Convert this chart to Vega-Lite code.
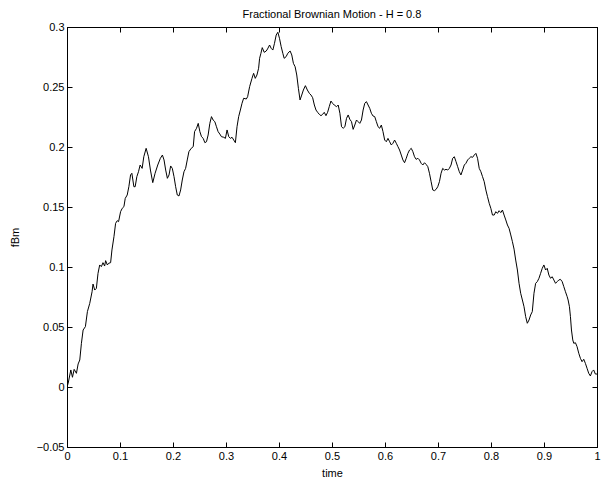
{
  "$schema": "https://vega.github.io/schema/vega-lite/v6.json",
  "autosize": "none",
  "width": 530,
  "height": 420,
  "padding": {"left": 67, "top": 27, "right": 4, "bottom": 39},
  "background": "white",
  "title": {"text": "Fractional Brownian Motion - H = 0.8", "font": "Liberation Sans", "fontSize": 11, "fontWeight": "normal", "color": "black", "offset": 1, "anchor": "middle"},
  "data": {"values": [
    {"time":0,"fBm":0},{"time":0.0022,"fBm":0.0031},{"time":0.0072,"fBm":0.0142},{"time":0.0103,"fBm":0.0081},{"time":0.0135,"fBm":0.0147},{"time":0.0178,"fBm":0.0114},{"time":0.021,"fBm":0.0192},{"time":0.0241,"fBm":0.0225},{"time":0.0272,"fBm":0.0364},{"time":0.0304,"fBm":0.0475},{"time":0.0347,"fBm":0.0503},{"time":0.0385,"fBm":0.0628},{"time":0.0429,"fBm":0.0697},{"time":0.0473,"fBm":0.0794},{"time":0.0491,"fBm":0.0858},{"time":0.0523,"fBm":0.0808},{"time":0.0554,"fBm":0.0822},{"time":0.0585,"fBm":0.0947},{"time":0.0617,"fBm":0.1017},{"time":0.0648,"fBm":0.1003},{"time":0.0679,"fBm":0.1036},{"time":0.071,"fBm":0.1008},{"time":0.0729,"fBm":0.1053},{"time":0.0761,"fBm":0.1017},{"time":0.0786,"fBm":0.1031},{"time":0.0823,"fBm":0.1036},{"time":0.0848,"fBm":0.1142},{"time":0.0886,"fBm":0.1253},{"time":0.0917,"fBm":0.1364},{"time":0.0948,"fBm":0.1386},{"time":0.0973,"fBm":0.1378},{"time":0.1011,"fBm":0.1461},{"time":0.1042,"fBm":0.1489},{"time":0.1074,"fBm":0.1503},{"time":0.1099,"fBm":0.1572},{"time":0.1136,"fBm":0.16},{"time":0.1167,"fBm":0.1669},{"time":0.1199,"fBm":0.1767},{"time":0.1224,"fBm":0.1781},{"time":0.1262,"fBm":0.1669},{"time":0.1286,"fBm":0.1669},{"time":0.1318,"fBm":0.1753},{"time":0.1349,"fBm":0.1794},{"time":0.138,"fBm":0.185},{"time":0.1418,"fBm":0.1822},{"time":0.1449,"fBm":0.1919},{"time":0.1493,"fBm":0.1989},{"time":0.1537,"fBm":0.1919},{"time":0.1574,"fBm":0.1808},{"time":0.1618,"fBm":0.1703},{"time":0.1662,"fBm":0.1781},{"time":0.1712,"fBm":0.185},{"time":0.1762,"fBm":0.1906},
    {"time":0.18,"fBm":0.1933},{"time":0.1831,"fBm":0.1892},{"time":0.1862,"fBm":0.1808},{"time":0.1894,"fBm":0.1739},{"time":0.1925,"fBm":0.1767},{"time":0.1956,"fBm":0.1842},{"time":0.1987,"fBm":0.1822},{"time":0.2019,"fBm":0.1753},{"time":0.205,"fBm":0.1669},{"time":0.2081,"fBm":0.16},{"time":0.2113,"fBm":0.1592},{"time":0.2144,"fBm":0.1642},{"time":0.2175,"fBm":0.1725},{"time":0.2207,"fBm":0.1794},{"time":0.2238,"fBm":0.1822},{"time":0.2269,"fBm":0.1892},{"time":0.23,"fBm":0.1961},{"time":0.2344,"fBm":0.1989},{"time":0.2382,"fBm":0.2003},{"time":0.2407,"fBm":0.2128},{"time":0.2444,"fBm":0.2156},{"time":0.2476,"fBm":0.2197},{"time":0.2507,"fBm":0.2128},{"time":0.2538,"fBm":0.2086},{"time":0.257,"fBm":0.2072},{"time":0.2601,"fBm":0.2036},{"time":0.2632,"fBm":0.2044},{"time":0.2663,"fBm":0.21},{"time":0.2695,"fBm":0.2197},{"time":0.2726,"fBm":0.2253},{"time":0.2757,"fBm":0.2225},{"time":0.2789,"fBm":0.2211},{"time":0.282,"fBm":0.2169},{"time":0.2851,"fBm":0.2128},{"time":0.2883,"fBm":0.2108},{"time":0.2914,"fBm":0.2086},{"time":0.2958,"fBm":0.2081},{"time":0.2989,"fBm":0.2072},{"time":0.302,"fBm":0.2142},{"time":0.3052,"fBm":0.2086},{"time":0.3083,"fBm":0.2072},{"time":0.3114,"fBm":0.2081},{"time":0.3146,"fBm":0.2058},{"time":0.3177,"fBm":0.2036},{"time":0.3208,"fBm":0.2169},{"time":0.3239,"fBm":0.2253},{"time":0.3271,"fBm":0.2308},{"time":0.3302,"fBm":0.2364},{"time":0.3333,"fBm":0.2406},
    {"time":0.3383,"fBm":0.24},{"time":0.3408,"fBm":0.2419},{"time":0.3446,"fBm":0.2503},{"time":0.349,"fBm":0.2572},{"time":0.3521,"fBm":0.2614},{"time":0.3552,"fBm":0.2572},{"time":0.3584,"fBm":0.26},{"time":0.3615,"fBm":0.2656},{"time":0.3634,"fBm":0.2739},{"time":0.3659,"fBm":0.2781},{"time":0.3684,"fBm":0.2828},{"time":0.3721,"fBm":0.2789},{"time":0.3759,"fBm":0.28},{"time":0.3784,"fBm":0.2817},{"time":0.3822,"fBm":0.285},{"time":0.3853,"fBm":0.2822},{"time":0.3884,"fBm":0.2808},{"time":0.3915,"fBm":0.2864},{"time":0.3947,"fBm":0.2933},{"time":0.3978,"fBm":0.2956},{"time":0.4009,"fBm":0.2906},{"time":0.4041,"fBm":0.2836},{"time":0.4072,"fBm":0.2781},{"time":0.4097,"fBm":0.2739},{"time":0.4135,"fBm":0.2753},{"time":0.4166,"fBm":0.2781},{"time":0.421,"fBm":0.28},{"time":0.4241,"fBm":0.2767},{"time":0.4272,"fBm":0.2697},{"time":0.4304,"fBm":0.2669},{"time":0.4335,"fBm":0.26},{"time":0.4366,"fBm":0.2489},{"time":0.4397,"fBm":0.2392},{"time":0.4429,"fBm":0.2433},{"time":0.446,"fBm":0.2475},{"time":0.4498,"fBm":0.2511},{"time":0.4535,"fBm":0.2475},{"time":0.4573,"fBm":0.2447},{"time":0.4604,"fBm":0.2433},{"time":0.4635,"fBm":0.2411},{"time":0.4667,"fBm":0.235},{"time":0.4698,"fBm":0.2308},{"time":0.4729,"fBm":0.2289},{"time":0.4761,"fBm":0.2272},{"time":0.4792,"fBm":0.2261},{"time":0.4823,"fBm":0.2272},{"time":0.4854,"fBm":0.2289},{"time":0.4886,"fBm":0.2261},{"time":0.4917,"fBm":0.2289},{"time":0.4948,"fBm":0.2336},{"time":0.498,"fBm":0.2383},{"time":0.5011,"fBm":0.2364},{"time":0.5042,"fBm":0.235},{"time":0.5086,"fBm":0.2336},{"time":0.5117,"fBm":0.235},
    {"time":0.5149,"fBm":0.2281},{"time":0.518,"fBm":0.2169},{"time":0.5211,"fBm":0.2156},{"time":0.5243,"fBm":0.2169},{"time":0.5274,"fBm":0.2239},{"time":0.5305,"fBm":0.2267},{"time":0.5336,"fBm":0.2231},{"time":0.5368,"fBm":0.2211},{"time":0.5399,"fBm":0.2147},{"time":0.543,"fBm":0.2183},{"time":0.5462,"fBm":0.2225},{"time":0.5493,"fBm":0.2211},{"time":0.5524,"fBm":0.2197},{"time":0.5556,"fBm":0.2225},{"time":0.5587,"fBm":0.2308},{"time":0.5618,"fBm":0.2364},{"time":0.5649,"fBm":0.2378},{"time":0.5681,"fBm":0.235},{"time":0.5712,"fBm":0.2322},{"time":0.5743,"fBm":0.2281},{"time":0.5775,"fBm":0.2258},{"time":0.5806,"fBm":0.2253},{"time":0.5837,"fBm":0.2211},{"time":0.5869,"fBm":0.2169},{"time":0.59,"fBm":0.2156},{"time":0.5931,"fBm":0.2183},{"time":0.5962,"fBm":0.2128},{"time":0.5994,"fBm":0.2058},{"time":0.6025,"fBm":0.2044},{"time":0.6056,"fBm":0.2072},{"time":0.6088,"fBm":0.2044},{"time":0.6119,"fBm":0.2017},{"time":0.615,"fBm":0.2031},{"time":0.6181,"fBm":0.2058},{"time":0.6213,"fBm":0.2031},{"time":0.6244,"fBm":0.2003},{"time":0.6275,"fBm":0.1975},{"time":0.6307,"fBm":0.1933},{"time":0.6338,"fBm":0.1892},{"time":0.6369,"fBm":0.1869},{"time":0.6401,"fBm":0.1906},{"time":0.6432,"fBm":0.1947},{"time":0.6463,"fBm":0.1975},{"time":0.6495,"fBm":0.1989},{"time":0.6526,"fBm":0.1961},{"time":0.6557,"fBm":0.1919},{"time":0.6588,"fBm":0.1897},{"time":0.662,"fBm":0.1906},{"time":0.6651,"fBm":0.1892},{"time":0.6682,"fBm":0.1864},{"time":0.6714,"fBm":0.185},{"time":0.6745,"fBm":0.1869},{"time":0.6776,"fBm":0.1855},
    {"time":0.6808,"fBm":0.1836},{"time":0.6839,"fBm":0.1781},{"time":0.687,"fBm":0.1711},{"time":0.6901,"fBm":0.1642},{"time":0.6933,"fBm":0.1636},{"time":0.6964,"fBm":0.1647},{"time":0.6995,"fBm":0.1669},{"time":0.7027,"fBm":0.1711},{"time":0.7058,"fBm":0.1781},{"time":0.7089,"fBm":0.1822},{"time":0.7121,"fBm":0.1808},{"time":0.7152,"fBm":0.1814},{"time":0.7183,"fBm":0.1808},{"time":0.7214,"fBm":0.1822},{"time":0.7246,"fBm":0.185},{"time":0.7277,"fBm":0.1906},{"time":0.7308,"fBm":0.1919},{"time":0.734,"fBm":0.1878},{"time":0.7371,"fBm":0.1836},{"time":0.7402,"fBm":0.1794},{"time":0.7433,"fBm":0.1767},{"time":0.7465,"fBm":0.1808},{"time":0.7496,"fBm":0.185},{"time":0.7527,"fBm":0.1864},{"time":0.7559,"fBm":0.1892},{"time":0.759,"fBm":0.1906},{"time":0.7621,"fBm":0.1919},{"time":0.7653,"fBm":0.1914},{"time":0.7684,"fBm":0.1933},{"time":0.7715,"fBm":0.1947},{"time":0.7746,"fBm":0.1906},{"time":0.7778,"fBm":0.1822},{"time":0.7809,"fBm":0.1794},{"time":0.784,"fBm":0.1753},{"time":0.7872,"fBm":0.1711},{"time":0.7903,"fBm":0.1642},{"time":0.7934,"fBm":0.1586},{"time":0.7966,"fBm":0.1531},{"time":0.7997,"fBm":0.1489},{"time":0.8028,"fBm":0.1433},{"time":0.806,"fBm":0.1433},{"time":0.8091,"fBm":0.1461},{"time":0.8122,"fBm":0.1447},{"time":0.8153,"fBm":0.1469},{"time":0.8185,"fBm":0.1453},{"time":0.8216,"fBm":0.1475},{"time":0.8247,"fBm":0.1433},{"time":0.8279,"fBm":0.1392},{"time":0.831,"fBm":0.135},{"time":0.8341,"fBm":0.1322},{"time":0.8373,"fBm":0.1267},{"time":0.8404,"fBm":0.1211},
    {"time":0.8435,"fBm":0.1149},{"time":0.8466,"fBm":0.1058},{"time":0.8498,"fBm":0.0975},{"time":0.8529,"fBm":0.0864},{"time":0.856,"fBm":0.0781},{"time":0.8592,"fBm":0.0725},{"time":0.8623,"fBm":0.0669},{"time":0.8654,"fBm":0.0586},{"time":0.8685,"fBm":0.0531},{"time":0.8717,"fBm":0.0558},{"time":0.8748,"fBm":0.06},{"time":0.8779,"fBm":0.0628},{"time":0.8811,"fBm":0.0781},{"time":0.8842,"fBm":0.0864},{"time":0.8873,"fBm":0.0878},{"time":0.8905,"fBm":0.0906},{"time":0.8936,"fBm":0.0947},{"time":0.8967,"fBm":0.0989},{"time":0.8998,"fBm":0.1017},{"time":0.903,"fBm":0.0975},{"time":0.9061,"fBm":0.0989},{"time":0.9092,"fBm":0.0933},{"time":0.9124,"fBm":0.0906},{"time":0.9155,"fBm":0.0919},{"time":0.9186,"fBm":0.0892},{"time":0.9218,"fBm":0.0864},{"time":0.9249,"fBm":0.0878},{"time":0.928,"fBm":0.0892},{"time":0.9311,"fBm":0.0897},{"time":0.9343,"fBm":0.0878},{"time":0.9374,"fBm":0.0836},{"time":0.9405,"fBm":0.0794},{"time":0.9437,"fBm":0.0753},{"time":0.9455,"fBm":0.0725},{"time":0.948,"fBm":0.0669},{"time":0.9499,"fBm":0.0586},{"time":0.9518,"fBm":0.0475},{"time":0.9543,"fBm":0.0392},{"time":0.9562,"fBm":0.0364},{"time":0.9593,"fBm":0.0369},{"time":0.9624,"fBm":0.0336},{"time":0.9656,"fBm":0.0281},{"time":0.9687,"fBm":0.0239},{"time":0.9718,"fBm":0.0211},{"time":0.975,"fBm":0.0231},{"time":0.9781,"fBm":0.0197},{"time":0.9812,"fBm":0.0156},{"time":0.9844,"fBm":0.0114},{"time":0.9875,"fBm":0.0092},{"time":0.9906,"fBm":0.0128},{"time":0.9937,"fBm":0.0142},{"time":0.9969,"fBm":0.0108},{"time":1,"fBm":0.0108}
  ]},
  "layer": [
    {
      "mark": {"type": "line", "color": "black", "strokeWidth": 1, "clip": true},
      "encoding": {
        "x": {"field": "time", "type": "quantitative", "scale": {"domain": [0, 1], "nice": false, "zero": false},
          "axis": {"orient": "bottom", "title": "time", "values": [0,0.1,0.2,0.3,0.4,0.5,0.6,0.7,0.8,0.9,1], "format": "~g", "labelPadding": 8, "titleX": 265, "titleY": 26, "titleBaseline": "middle"}},
        "y": {"field": "fBm", "type": "quantitative", "scale": {"domain": [-0.05, 0.3], "nice": false, "zero": false},
          "axis": {"orient": "left", "title": "fBm", "values": [-0.05,0,0.05,0.1,0.15,0.2,0.25,0.3], "format": "~g", "labelPadding": 8, "titleX": -52, "titleY": 210, "titleBaseline": "middle", "titleAngle": -90, "titleAlign": "center"}}
      }
    },
    {
      "mark": {"type": "line", "color": "black", "strokeWidth": 1, "strokeOpacity": 0},
      "encoding": {
        "x": {"field": "time", "type": "quantitative", "scale": {"domain": [0, 1], "nice": false, "zero": false},
          "axis": {"orient": "top", "title": null, "labels": false, "values": [0,0.1,0.2,0.3,0.4,0.5,0.6,0.7,0.8,0.9,1]}},
        "y": {"field": "fBm", "type": "quantitative", "scale": {"domain": [-0.05, 0.3], "nice": false, "zero": false},
          "axis": {"orient": "right", "title": null, "labels": false, "values": [-0.05,0,0.05,0.1,0.15,0.2,0.25,0.3]}}
      }
    }
  ],
  "resolve": {"axis": {"x": "independent", "y": "independent"}},
  "config": {
    "view": {"stroke": "black", "strokeWidth": 1},
    "axis": {"grid": false, "domainColor": "black", "domainWidth": 1, "tickColor": "black", "tickWidth": 1, "tickSize": -5, "labelColor": "black", "titleColor": "black", "labelFont": "Liberation Sans", "titleFont": "Liberation Sans", "labelFontSize": 11, "titleFontSize": 11, "titleFontWeight": "normal", "labelFlush": false, "labelOverlap": false}
  }
}
